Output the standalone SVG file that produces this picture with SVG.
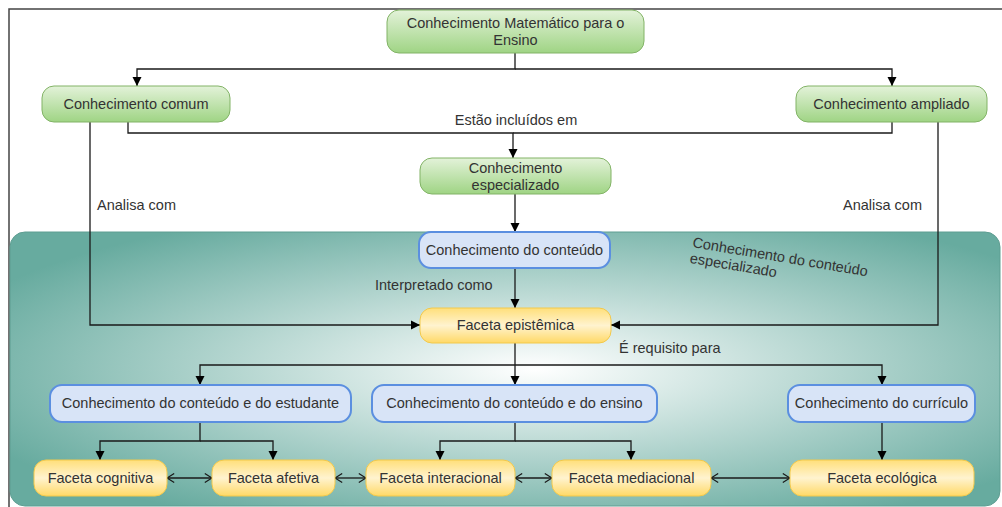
<svg xmlns="http://www.w3.org/2000/svg" width="1002" height="507" viewBox="0 0 1002 507">
<defs>
<style>
text{font-family:"Liberation Sans",Arial,sans-serif;font-size:14.5px;fill:#333}
.c{text-anchor:middle}
.g{fill:url(#gGreen);stroke:#82b366;stroke-width:1}
.b{fill:#d8e4f7;stroke:#5b8fe0;stroke-width:2}
.y{fill:url(#gYellow);stroke:#f2c94c;stroke-width:1}
.e{fill:none;stroke:#1a1a1a;stroke-width:1.3}
.a{marker-end:url(#tri)}
.d{marker-start:url(#open);marker-end:url(#open)}
</style>
<linearGradient id="gGreen" x1="0" y1="0" x2="0" y2="1">
<stop offset="0" stop-color="#e3f2d9"/>
<stop offset="1" stop-color="#9fd484"/>
</linearGradient>
<linearGradient id="gYellow" x1="0" y1="0" x2="0" y2="1">
<stop offset="0" stop-color="#ffdf7a"/>
<stop offset="0.5" stop-color="#fff3cf"/>
<stop offset="1" stop-color="#ffd966"/>
</linearGradient>
<radialGradient id="gTeal" cx="0.53" cy="0.5" r="0.62">
<stop offset="0" stop-color="#ffffff"/>
<stop offset="1" stop-color="#67ab9f"/>
</radialGradient>
<marker id="tri" viewBox="0 0 10 10" refX="10" refY="5" markerWidth="9" markerHeight="10" markerUnits="userSpaceOnUse" orient="auto">
<path d="M0,0 L10,5 L0,10 z" fill="#000"/>
</marker>
<marker id="open" viewBox="0 0 10 12" refX="9" refY="6" markerWidth="9" markerHeight="11" markerUnits="userSpaceOnUse" orient="auto-start-reverse">
<path d="M1,1 L9,6 L1,11" fill="none" stroke="#1a1a1a" stroke-width="1.4"/>
</marker>
</defs>
<rect x="0" y="0" width="1002" height="507" fill="#fff"/>
<rect id="frame" x="9" y="9" width="1003" height="510" fill="none" stroke="#444" stroke-width="1.5"/>
<g id="region">
<rect x="10" y="232" width="990" height="274" rx="15" fill="url(#gTeal)" stroke="#5f9e92" stroke-width="1"/>
<text transform="translate(692,247) rotate(9.5)"><tspan x="0" y="0">Conhecimento do conteúdo</tspan><tspan x="0" y="16">especializado</tspan></text>
</g>
<g id="connectors">
<path class="e a" d="M515,53 V69 H137 V86"/>
<path class="e a" d="M515,69 H892 V86"/>
<path class="e a" d="M128,122 V133 H513 V158"/>
<path class="e" d="M892,122 V133 H513"/>
<path class="e a" d="M515,194 V232"/>
<path class="e a" d="M90,122 V325 H420"/>
<path class="e a" d="M938,122 V325 H611"/>
<path class="e a" d="M515,268 V308"/>
<path class="e a" d="M515,343 V385"/>
<path class="e a" d="M515,365 H200 V385"/>
<path class="e a" d="M515,365 H882 V385"/>
<path class="e a" d="M200,422 V441 H100 V460"/>
<path class="e a" d="M200,441 H273 V460"/>
<path class="e a" d="M515,422 V441 H440 V460"/>
<path class="e a" d="M515,441 H631 V460"/>
<path class="e a" d="M882,422 V460"/>
<path class="e d" d="M167,478 H212"/>
<path class="e d" d="M335,478 H366"/>
<path class="e d" d="M515,478 H552"/>
<path class="e d" d="M711,478 H790"/>
<text class="c" x="516" y="125">Estão incluídos em</text>
<text x="97" y="210">Analisa com</text>
<text x="843" y="210">Analisa com</text>
<text x="375" y="290">Interpretado como</text>
<text x="619" y="353">É requisito para</text>
</g>
<g id="n-cme"><rect class="g" x="387" y="10" width="257" height="43" rx="12"/><text class="c" x="515.5" y="27.5">Conhecimento Matemático para o</text><text class="c" x="515.5" y="44.5">Ensino</text></g>
<g id="n-comum"><rect class="g" x="42" y="86" width="188" height="36" rx="12"/><text class="c" x="136" y="109">Conhecimento comum</text></g>
<g id="n-ampliado"><rect class="g" x="796" y="86" width="191" height="36" rx="12"/><text class="c" x="891.5" y="109">Conhecimento ampliado</text></g>
<g id="n-especializado"><rect class="g" x="420" y="158" width="191" height="36" rx="12"/><text class="c" x="515.5" y="172.5">Conhecimento</text><text class="c" x="515.5" y="189.5">especializado</text></g>
<g id="n-conteudo"><rect class="b" x="419" y="232" width="191" height="36" rx="12"/><text class="c" x="514.5" y="255">Conhecimento do conteúdo</text></g>
<g id="n-epistemica"><rect class="y" x="420" y="308" width="191" height="35" rx="12"/><text class="c" x="515.5" y="330">Faceta epistêmica</text></g>
<g id="n-estudante"><rect class="b" x="50" y="385" width="301" height="37" rx="12"/><text class="c" x="200.5" y="408">Conhecimento do conteúdo e do estudante</text></g>
<g id="n-ensino"><rect class="b" x="372" y="385" width="285" height="37" rx="12"/><text class="c" x="514.5" y="408">Conhecimento do conteúdo e do ensino</text></g>
<g id="n-curriculo"><rect class="b" x="788" y="385" width="187" height="37" rx="12"/><text class="c" x="881.5" y="408">Conhecimento do currículo</text></g>
<g id="n-cognitiva"><rect class="y" x="34" y="460" width="133" height="36" rx="12"/><text class="c" x="100.5" y="483">Faceta cognitiva</text></g>
<g id="n-afetiva"><rect class="y" x="212" y="460" width="123" height="36" rx="12"/><text class="c" x="273.5" y="483">Faceta afetiva</text></g>
<g id="n-interacional"><rect class="y" x="366" y="460" width="149" height="36" rx="12"/><text class="c" x="440.5" y="483">Faceta interacional</text></g>
<g id="n-mediacional"><rect class="y" x="552" y="460" width="159" height="36" rx="12"/><text class="c" x="631.5" y="483">Faceta mediacional</text></g>
<g id="n-ecologica"><rect class="y" x="790" y="460" width="184" height="36" rx="12"/><text class="c" x="882" y="483">Faceta ecológica</text></g>
</svg>
